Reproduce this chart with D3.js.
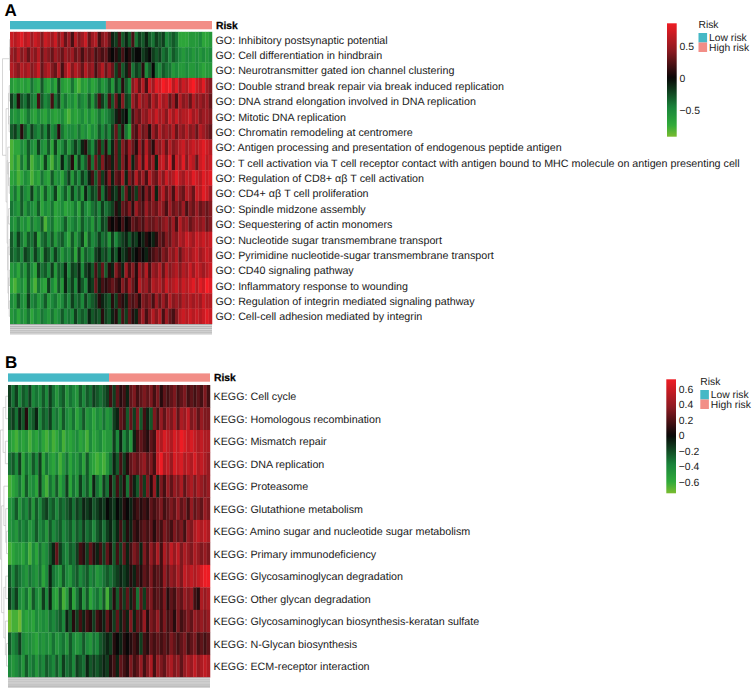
<!DOCTYPE html>
<html><head><meta charset="utf-8">
<script src="https://cdn.jsdelivr.net/npm/d3@7"></script>
<style>html,body{margin:0;background:#fff}svg{display:block}text{font-family:"Liberation Sans",Arial,sans-serif;fill:#1a1a1a;text-rendering:geometricPrecision}</style>
</head><body><svg id="c" width="753" height="690"></svg>
<script>
// Row labels
const goTerms=["Inhibitory postsynaptic potential","Cell differentiation in hindbrain","Neurotransmitter gated ion channel clustering","Double strand break repair via break induced replication","DNA strand elongation involved in DNA replication","Mitotic DNA replication","Chromatin remodeling at centromere","Antigen processing and presentation of endogenous peptide antigen","T cell activation via T cell receptor contact with antigen bound to MHC molecule on antigen presenting cell","Regulation of CD8+ αβ T cell activation","CD4+ αβ T cell proliferation","Spindle midzone assembly","Sequestering of actin monomers","Nucleotide sugar transmembrane transport","Pyrimidine nucleotide-sugar transmembrane transport","CD40 signaling pathway","Inflammatory response to wounding","Regulation of integrin mediated signaling pathway","Cell-cell adhesion mediated by integrin"];
const keggTerms=["Cell cycle","Homologous recombination","Mismatch repair","DNA replication","Proteasome","Glutathione metabolism","Amino sugar and nucleotide sugar metabolism","Primary immunodeficiency","Glycosaminoglycan degradation","Other glycan degradation","Glycosaminoglycan biosynthesis-keratan sulfate","N-Glycan biosynthesis","ECM-receptor interaction"];
// Heat levels (samples left to right, one array per row)
const goLevels=[
[7,6,7,8,6,7,5,7,6,4,7,6,5,7,4,6,3,5,2,6,4,5,7,3,5,6,2,4,5,3,-1,-2,2,-3,-1,-3,2,-4,-2,-3,-1,-3,-4,-2,-3,-2,-5,-4,-3,-4,-7,-7,-7,-6,-6,-6,-5,-7,-7,-6],
[5,4,6,4,5,3,5,4,6,3,5,4,3,5,4,3,5,4,5,3,4,2,4,3,4,2,3,2,3,1,0,1,-1,2,0,1,-1,0,0,-2,-1,0,-2,-3,-2,-4,-3,-5,-3,-4,-5,-6,-5,-5,-6,-5,-6,-5,-6,-5],
[6,5,4,6,5,6,4,5,7,3,5,6,4,3,6,2,5,7,4,6,5,3,6,4,5,2,4,6,3,5,3,-2,2,-3,-1,2,-4,-2,-3,1,-5,-3,0,-4,-5,-3,-4,-4,-6,-5,-6,-6,-5,-6,-6,-5,-6,-7,-6,-6],
[-6,-7,-6,-7,-6,-7,-4,-6,-7,-3,-6,-7,-5,-7,-2,-6,-7,-7,-4,-7,-8,-6,-7,-5,-7,-6,-4,-6,-5,-3,-6,-2,-4,1,-3,-5,4,6,3,6,2,7,5,8,7,9,8,9,6,8,5,7,6,8,9,7,6,8,5,4],
[-2,-4,1,-3,-4,-2,-4,-5,2,-3,-5,-4,2,-4,-2,-6,-4,-6,-5,-7,-4,-5,-6,-3,-6,-3,2,-2,-4,2,-3,3,-1,4,-2,-3,5,3,6,4,5,3,6,4,7,5,6,3,5,2,6,4,5,3,6,4,5,4,5,3],
[-5,-6,-5,-7,-6,-4,-6,-7,-5,-6,-7,-5,-6,-7,-6,-5,-7,-8,-6,-7,-6,-5,-7,-5,-7,-6,-4,-6,-5,-4,-3,-1,1,-1,0,-4,2,4,3,5,4,6,5,7,5,6,4,7,5,7,5,6,6,7,5,6,4,5,5,4],
[-3,-2,-4,1,-3,-5,-2,-4,-5,-3,-5,-2,-5,-4,1,-4,-6,-5,-5,-6,-4,-6,-5,-7,-5,-6,-3,-5,-3,-5,-2,3,-3,1,-4,-7,3,2,5,3,4,1,5,3,6,4,5,4,6,3,5,4,6,4,5,3,6,5,4,3],
[-8,-7,-7,-5,-6,-3,-5,-6,-2,-5,-6,-3,-7,-2,-6,-5,-3,-6,-4,-2,-4,-1,1,-3,-5,-2,2,-3,1,-4,-1,3,-2,4,2,5,3,1,5,2,6,3,1,5,4,6,3,6,4,5,6,7,5,6,7,6,7,8,7,6],
[-8,-6,-8,-4,-7,-3,-8,-6,-5,-7,-2,-6,-8,-4,-6,-1,-5,-3,1,-6,-2,-5,-3,2,-4,3,-2,4,1,2,-1,3,-2,4,1,5,-1,3,6,2,7,3,5,-1,6,7,4,8,2,7,5,8,4,7,6,3,7,8,6,7],
[-7,-6,-8,-7,-5,-6,-8,-6,-7,-4,-6,-7,-3,-6,-5,-7,-4,-2,-6,-3,-5,-2,-4,-1,2,-3,3,-2,1,4,-1,3,2,5,-1,4,2,6,3,5,2,6,4,3,6,4,7,5,6,8,6,5,7,6,8,7,6,8,7,8],
[-6,-4,-7,-3,-5,-6,-2,-6,-4,-7,-3,-6,-5,-2,-7,-5,-3,-6,-2,-5,-3,-6,-1,-4,-2,-3,2,-4,-1,2,-1,-2,1,-3,3,-1,2,-2,3,1,4,2,5,-1,4,6,3,5,2,6,4,3,6,5,3,7,6,8,7,5],
[-4,-5,-6,-3,-6,-4,-5,-6,-3,-7,-5,-6,-4,-7,-6,-5,-7,-6,-6,-4,-7,-3,-5,-6,-4,-3,-5,-2,-4,-3,-2,1,-1,3,2,4,1,5,3,2,5,3,4,3,5,4,2,5,3,4,3,5,2,4,3,5,3,4,3,4],
[-5,-6,-4,-6,-5,-7,-4,-6,-5,-3,-8,-5,-4,-7,-6,-5,-3,-6,-5,-4,-6,-3,-5,-4,-6,-3,-5,-2,-3,1,0,1,0,2,0,1,3,2,3,2,4,3,3,4,3,4,5,3,5,2,6,4,5,3,4,5,4,5,3,4],
[-3,-5,-2,-4,-6,-3,-4,-2,-7,-4,-3,-5,-3,-6,-4,-3,-5,-7,-3,-6,-4,-2,-7,-3,-5,-4,-2,-4,-3,-6,-2,-5,-3,-2,-1,-3,-1,-2,0,-1,1,0,-1,1,3,2,4,3,5,4,6,5,7,6,5,7,6,7,6,7],
[-3,-4,-3,-5,-2,-3,-5,-2,-4,-6,-2,-3,-5,-2,-4,-6,-4,-5,-3,-7,-2,-6,-3,-4,-5,-2,-1,-3,-2,-4,-1,-3,0,-2,-1,1,-1,0,1,0,-1,1,2,3,2,4,3,5,4,6,3,5,6,5,6,7,5,6,7,6],
[-6,-5,-7,-4,-6,-3,-5,-7,-2,-4,-3,-5,-2,-6,-3,-4,-1,-5,-2,-3,-1,-5,-2,-1,-3,2,-2,3,-3,1,-1,4,2,-1,5,2,4,1,5,3,6,2,5,4,6,3,6,4,5,6,4,6,5,7,5,7,6,5,6,7],
[-7,-8,-6,-5,-7,-3,-6,-8,-4,-6,-7,-2,-5,-7,-3,-6,-1,-4,-2,-5,-1,-3,-5,-1,-2,3,-1,2,1,2,3,2,1,4,2,5,3,1,6,4,5,3,6,5,6,4,7,5,6,7,5,7,6,7,8,6,8,7,9,8],
[-5,-6,-3,-5,-6,-2,-5,-4,-6,-5,-3,-6,-5,-4,-6,-5,-3,-5,-2,-4,-3,-5,-2,-4,-3,-2,1,-1,-2,-3,1,-2,2,1,-1,3,2,3,1,4,3,4,2,5,3,5,3,6,4,5,4,6,5,6,5,6,5,7,6,6],
[-6,-5,-7,-5,-6,-4,-7,-5,-6,-4,-5,-6,-4,-6,-5,-3,-5,-4,-5,-2,-4,-3,-4,-1,-3,-2,-3,1,-2,-3,-1,1,-3,2,-2,3,1,-1,3,5,2,4,6,4,6,2,5,3,2,4,6,7,6,7,6,7,6,7,8,7]];
const keggLevels=[
[-2,-4,-2,-5,-3,-4,-2,-5,-4,-5,-3,-5,-2,-4,-6,-4,-3,-6,-4,-5,-6,-3,-5,-3,-4,-2,-3,-4,-3,-2,2,-2,3,1,2,-1,3,4,2,3,4,3,4,2,4,1,3,2,3,4,2,3,4,2,3,2,3,2,4,2],
[-3,-2,-4,-1,-3,1,-4,-3,-1,-5,-3,-4,-2,-5,-4,-6,-3,-5,-6,-4,-7,-5,-3,-6,-5,-7,-5,-6,-4,-6,-5,-2,-1,3,2,-3,3,-2,4,-3,2,-1,-3,4,2,5,3,5,4,6,3,6,5,7,4,5,3,5,4,4],
[-6,-7,-8,-6,-7,-6,-8,-6,-7,-5,-7,-8,-6,-8,-7,-5,-8,-6,-7,-6,-5,-7,-6,-8,-5,-7,-6,-5,-7,-6,-6,-2,-5,-1,-5,-3,-6,-1,2,3,2,1,3,2,7,6,8,7,6,8,7,9,8,7,8,7,6,7,6,6],
[-4,-3,-5,-2,-7,-4,-6,-3,-5,-2,-7,-4,-6,-7,-5,-8,-6,-4,-7,-5,-6,-4,-7,-3,-6,-7,-8,-7,-8,-6,-4,-1,-3,2,-2,1,3,4,3,4,5,3,4,2,7,9,6,7,5,8,7,8,6,7,6,8,6,7,6,5],
[-8,-7,-6,-4,-7,-3,-6,-5,-7,-2,-6,-8,-4,-6,-3,-7,-5,-2,-7,-4,-6,-2,-5,-3,-6,-1,-4,-6,-2,-4,1,-3,2,-2,1,-4,2,-1,-3,3,-2,4,1,5,-1,4,2,5,3,5,4,6,3,5,6,4,6,5,4,5],
[-6,-5,-3,-6,-4,-5,-3,-6,-3,-5,-3,-2,-4,-3,-5,-3,-4,-3,-2,-4,-2,-3,-1,-2,-1,-3,-2,-1,-2,0,-1,-2,0,-1,1,0,-1,1,2,1,2,1,3,2,3,4,2,3,4,3,5,3,4,2,5,3,4,3,5,4],
[-6,-5,-6,-4,-5,-4,-6,-5,-3,-5,-4,-6,-3,-5,-4,-3,-5,-4,-3,-5,-3,-4,-2,-4,-3,-5,-3,-2,-4,-2,-1,-3,-1,2,-2,1,-1,2,1,2,3,2,3,1,3,2,4,3,2,4,3,4,2,5,4,6,7,6,7,6],
[-8,-7,-6,-6,-7,-5,-8,-5,-7,-4,-6,-5,-3,-1,3,-2,-4,-5,-3,-4,-2,2,1,-2,3,1,-1,2,-2,3,1,-3,2,-2,3,-1,2,4,3,-1,4,2,5,3,6,2,6,4,7,5,7,4,6,5,4,6,5,4,5,4],
[-3,-5,-3,-4,-5,-6,-4,-5,-6,-4,-7,-5,-1,-4,-5,-6,-3,-5,-6,-4,-3,-5,-4,-3,-5,-4,-6,-5,-4,-3,-4,-3,-2,-1,-2,-1,1,-1,2,1,3,2,4,2,3,2,5,3,5,4,6,4,7,6,7,6,7,8,9,9],
[-2,-4,-2,-5,-6,-4,-7,-3,-5,-6,-2,-5,-1,-6,-7,-3,-8,-6,-2,-7,-4,-2,-6,-3,-7,-5,-4,-6,-3,-8,-3,1,-3,2,-2,3,-1,2,-4,3,-2,3,4,2,3,2,4,1,3,2,4,3,5,4,5,2,1,6,5,6],
[-9,-8,-8,-9,-6,-7,-6,-7,-5,-6,-5,-6,-4,-5,-4,-3,-5,-1,-3,1,-2,2,-1,2,1,-2,2,1,-1,3,1,-2,3,-1,2,-1,4,-1,3,2,5,1,4,3,5,2,4,2,3,1,4,2,3,4,3,5,4,5,4,5],
[-3,-5,-4,-2,-5,-6,-5,-6,-7,-5,-6,-5,-6,-4,-6,-5,-4,-6,-3,-5,-6,-5,-3,-5,-6,-4,-5,-3,-2,-1,-2,1,0,-1,1,0,1,2,1,-2,2,1,3,2,3,2,3,2,4,3,2,3,4,2,3,4,2,3,2,3],
[-5,-6,-5,-4,-6,-3,-5,-4,-6,-4,-5,-3,-4,-5,-3,-5,-2,-4,-3,-5,-2,-3,-4,-1,-3,-2,-3,-2,-1,-2,1,2,-1,3,2,1,4,2,3,5,2,4,6,2,5,4,3,5,6,4,5,3,5,6,5,7,5,6,7,6]];
// Risk groups (share of samples)
const riskNames=["Low risk","High risk"];
const goRiskShare=[0.475,0.525];
const keggRiskShare=[0.5,0.5];
// Colour key
const goTicks=[-0.5,0,0.5];
const keggTicks=[-0.6,-0.4,-0.2,0,0.2,0.4,0.6];
const goRange=[-0.917,0.855];
const keggRange=[-0.746,0.725];
// Row dendrograms: [height, child, child], leaves are row numbers
const goTree=[1,[0.06,[0.04,0,1],2],[0.52,[0.2,[0.1,3,4],[0.12,5,6]],[0.38,[0.3,7,[0.2,8,[0.1,9,10]]],[0.3,[0.18,11,12],[0.27,[0.1,13,14],[0.2,[0.1,15,16],[0.1,17,18]]]]]]];
const keggTree=[1,[0.65,[0.3,0,1],[0.35,2,3]],[0.85,[0.55,4,[0.3,5,[0.2,6,7]]],[0.55,[0.3,8,9],[0.35,10,[0.2,11,12]]]]];
// Label-strip shades below each heat map
const stripShades=["#a8a8a8","#d4d4d4","#b0b0b0","#cccccc","#acacac","#d6d6d6","#b0b0b0","#c8c8c8","#acacac","#d0d0d0"];

const svg=d3.select("#c");
const RISK=d3.scaleOrdinal(riskNames,["#45b8c6","#f28e87"]);
function heat(range){
  const s=d3.scaleLinear()
   .domain([-1,-0.8,-0.5,0,0.5,1])
   .range(["#7abc30","#30aa3a","#1a843b","#080808","#8c1a21","#ee1c24"]);
  return v=>s(v<0?v/-range[0]:v/range[1]);
}
function panel(o){
  const g=svg.append("g");
  g.append("text").attr("x",o.letterX).attr("y",o.letterY).attr("font-size",17).attr("font-weight","bold").style("fill","#000").text(o.letter);
  // annotation bar
  const ax=d3.scaleLinear([0,1],[o.x0,o.x1]);
  let acc=0;
  o.share.forEach((s,i)=>{g.append("rect").attr("x",ax(acc)).attr("y",o.barY).attr("width",ax(acc+s)-ax(acc)).attr("height",8.3).attr("fill",RISK(riskNames[i]));acc+=s;});
  g.append("text").attr("x",o.x1+4).attr("y",o.barY+8).attr("font-size",10.3).attr("font-weight","bold").style("stroke","#000").style("stroke-width",0.25).style("fill","#000").text("Risk");
  // cells
  const y=d3.scaleBand(d3.range(o.rows.length),[o.y0,o.y1]);
  const col=heat(o.range);
  o.rows.forEach((row,r)=>{
    const x=d3.scaleBand(d3.range(row.length),[o.x0,o.x1]);
    g.append("g").selectAll("rect").data(row).join("rect")
     .attr("x",(d,i)=>x(i)).attr("y",y(r)).attr("width",x.bandwidth()+0.25).attr("height",y.bandwidth()+0.25)
     .attr("fill",d=>col(d*o.unit));
  });
  // row labels
  g.append("g").selectAll("text").data(o.terms).join("text")
   .attr("x",o.x1+3.5).attr("y",(d,i)=>y(i)+y.bandwidth()/2+0.4).attr("dy","0.35em")
   .attr("font-size",10.72).text(d=>o.prefix+d);
  // dendrogram
  const hx=d3.scaleLinear([0,1],[o.x0,o.x0-7.5]);
  const lines=[];
  (function walk(n){
    if(typeof n==="number") return {y:y(n)+y.bandwidth()/2,x:hx(0)};
    const a=walk(n[1]),b=walk(n[2]),X=hx(n[0]);
    lines.push([a.x,a.y,X,a.y],[b.x,b.y,X,b.y],[X,a.y,X,b.y]);
    return {x:X,y:(a.y+b.y)/2};
  })(o.tree);
  g.append("g").selectAll("line").data(lines).join("line")
   .attr("x1",d=>d[0]).attr("y1",d=>d[1]).attr("x2",d=>d[2]).attr("y2",d=>d[3])
   .attr("stroke","#c4c4c4").attr("stroke-width",0.7);
  // unreadable column labels as a gray strip
  const sy=d3.scaleBand(d3.range(stripShades.length),[o.y1,o.y1+10.5]);
  g.append("g").selectAll("rect").data(stripShades).join("rect")
   .attr("x",o.x0).attr("y",(d,i)=>sy(i)).attr("width",o.x1-o.x0).attr("height",sy.bandwidth()+0.1).attr("fill",d=>d);
  // colour key
  const ky=d3.scaleLinear(o.range,[o.keyY1,o.keyY0]);
  const id="grad"+o.letter;
  const gr=svg.append("defs").append("linearGradient").attr("id",id).attr("x1",0).attr("x2",0).attr("y1",1).attr("y2",0);
  d3.range(0,41).forEach(i=>{const t=i/40,v=o.range[0]+t*(o.range[1]-o.range[0]);gr.append("stop").attr("offset",t).attr("stop-color",col(v));});
  g.append("rect").attr("x",o.keyX).attr("y",o.keyY0).attr("width",9.7).attr("height",o.keyY1-o.keyY0).attr("fill",`url(#${id})`);
  const axis=d3.axisRight(ky).tickValues(o.ticks).tickSize(0).tickPadding(0).tickFormat(d=>d===0?"0":d3.format(".1f")(d).replace("-","\u2212"));
  const ag=g.append("g").attr("transform",`translate(${o.keyX+12.5},0)`).call(axis);
  ag.select(".domain").remove();
  ag.selectAll("text").attr("font-size",10.4).attr("font-family",null).style("font-family",'"Liberation Sans",Arial,sans-serif');
  // legend
  g.append("text").attr("x",o.legX).attr("y",o.legY).attr("font-size",10.3).text("Risk");
  const ly=d3.scaleBand(riskNames,[o.legY+5,o.legY+24]);
  riskNames.forEach(n=>{
    g.append("rect").attr("x",o.legX).attr("y",ly(n)).attr("width",8.6).attr("height",ly.bandwidth()).attr("fill",RISK(n));
    g.append("text").attr("x",o.legX+10.5).attr("y",ly(n)+ly.bandwidth()/2).attr("dy","0.35em").attr("font-size",10.3).text(n);
  });
}
panel({letter:"A",letterX:4.5,letterY:15.8,x0:10,x1:212,y0:31.8,y1:324,barY:21,rows:goLevels,terms:goTerms,prefix:"GO: ",share:goRiskShare,tree:goTree,range:goRange,unit:0.1,ticks:goTicks,keyX:667,keyY0:23.3,keyY1:136.7,legX:698.5,legY:28});
panel({letter:"B",letterX:5,letterY:368,x0:8,x1:210,y0:385,y1:677.3,barY:373.4,rows:keggLevels,terms:keggTerms,prefix:"KEGG: ",share:keggRiskShare,tree:keggTree,range:keggRange,unit:0.08,ticks:keggTicks,keyX:666.3,keyY0:379.3,keyY1:493.3,legX:700.3,legY:385});
</script></body></html>
